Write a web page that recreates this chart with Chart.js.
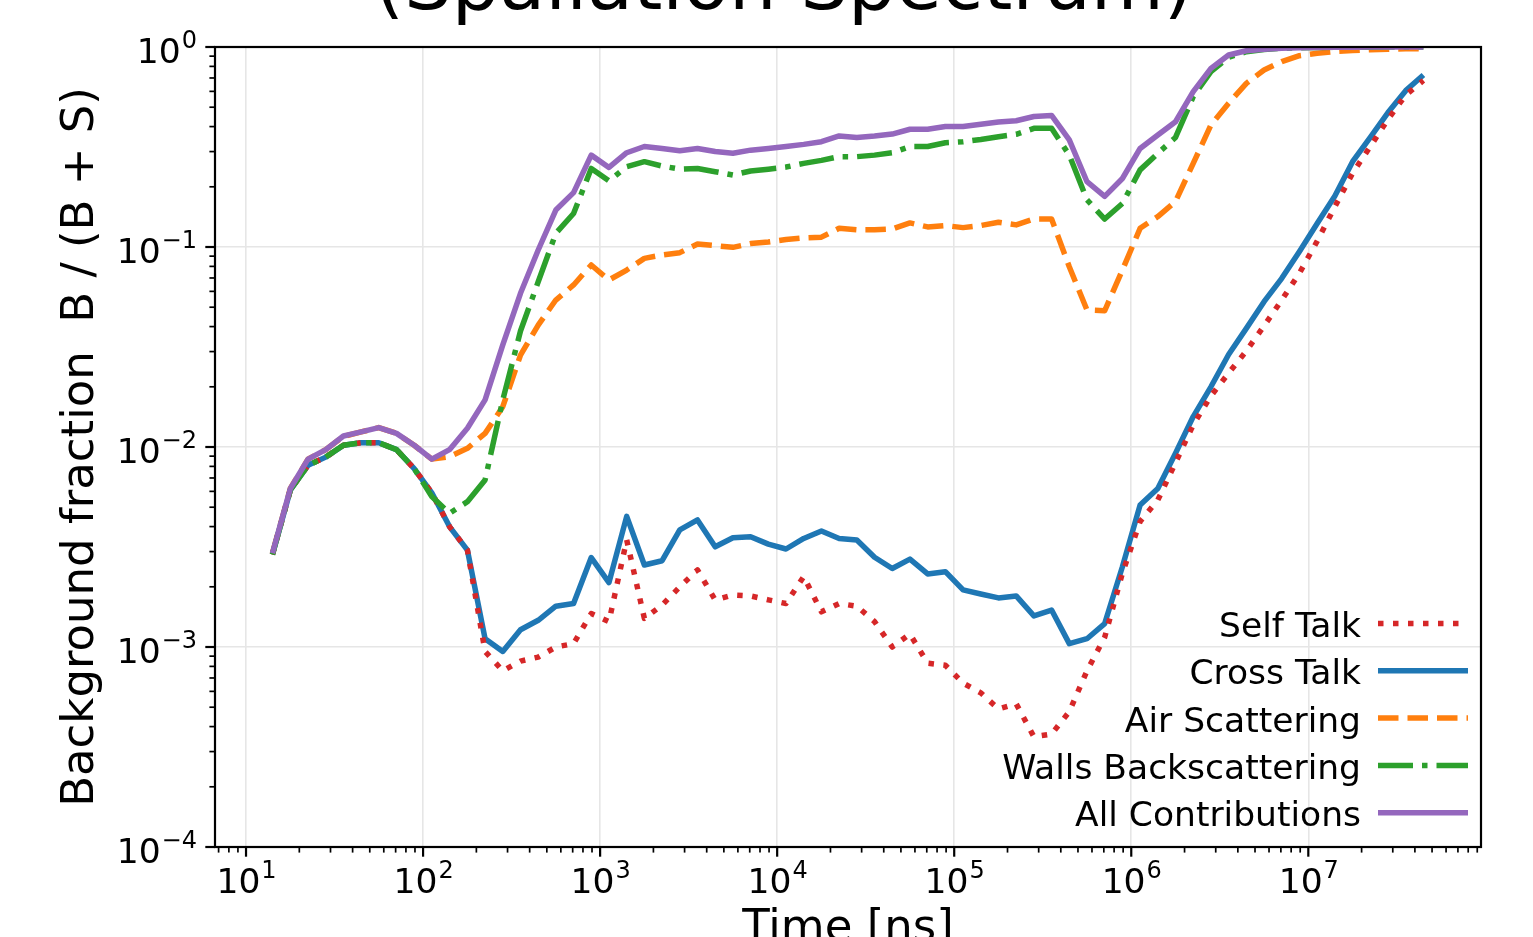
<!DOCTYPE html>
<html>
<head>
<meta charset="utf-8">
<script src="https://cdn.jsdelivr.net/npm/chart.js@4.4.1/dist/chart.umd.min.js"></script>
<style>
  html, body { margin: 0; padding: 0; overflow: hidden; background: #fff; }
  #wrap { position: absolute; left: 0; top: 0; width: 1533px; height: 1000px; }
</style>
</head>
<body>
<div id="wrap"><canvas id="fractionChart"></canvas></div>
<script>
const FAMILY = '"DejaVu Sans", sans-serif';

// time bin centres [ns]
const times = [
  14.1, 17.8, 22.4, 28.2, 35.5, 44.7, 56.2, 70.8, 89.1, 112,
  141, 178, 224, 282, 355, 447, 562, 708, 891, 1122,
  1413, 1778, 2239, 2818, 3548, 4467, 5623, 7079, 8913, 11220,
  14125, 17783, 22387, 28184, 35481, 44668, 56234, 70795, 89125, 112202,
  141254, 177828, 223872, 281838, 354813, 446684, 562341, 707946, 891251, 1122018,
  1412538, 1778279, 2238721, 2818383, 3548134, 4466836, 5623413, 7079458, 8912509, 11220185,
  14125375, 17782794, 22387211, 28183829, 35481339, 44668359
];

const selfTalk = [
  2.9e-3, 6.1e-3, 8.1e-3, 8.9e-3, 1.02e-2, 1.05e-2, 1.05e-2, 9.7e-3, 7.8e-3, 5.9e-3,
  4.0e-3, 3.05e-3, 9.5e-4, 7.6e-4, 8.5e-4, 8.9e-4, 1.0e-3, 1.04e-3, 1.47e-3, 1.34e-3,
  3.43e-3, 1.39e-3, 1.62e-3, 2.0e-3, 2.43e-3, 1.72e-3, 1.82e-3, 1.8e-3, 1.72e-3, 1.65e-3,
  2.25e-3, 1.5e-3, 1.65e-3, 1.6e-3, 1.34e-3, 1.0e-3, 1.16e-3, 8.3e-4, 8.1e-4, 6.6e-4,
  5.9e-4, 4.9e-4, 5.2e-4, 3.56e-4, 3.67e-4, 4.75e-4, 7.6e-4, 1.12e-3, 2.34e-3, 4.24e-3,
  5.43e-3, 8.35e-3, 1.29e-2, 1.8e-2, 2.34e-2, 3.02e-2, 4.03e-2, 5.43e-2, 7.4e-2, 0.107,
  0.159, 0.234, 0.318, 0.435, 0.575, 0.68
];

const crossTalk = [
  2.9e-3, 6.1e-3, 8.1e-3, 8.9e-3, 1.02e-2, 1.05e-2, 1.05e-2, 9.7e-3, 7.8e-3, 5.9e-3,
  4.0e-3, 3.05e-3, 1.1e-3, 9.5e-4, 1.22e-3, 1.36e-3, 1.6e-3, 1.65e-3, 2.8e-3, 2.1e-3,
  4.5e-3, 2.57e-3, 2.7e-3, 3.85e-3, 4.32e-3, 3.17e-3, 3.52e-3, 3.56e-3, 3.27e-3, 3.09e-3,
  3.49e-3, 3.8e-3, 3.49e-3, 3.43e-3, 2.81e-3, 2.47e-3, 2.75e-3, 2.32e-3, 2.38e-3, 1.93e-3,
  1.84e-3, 1.76e-3, 1.8e-3, 1.43e-3, 1.53e-3, 1.04e-3, 1.1e-3, 1.31e-3, 2.52e-3, 5.13e-3,
  6.2e-3, 9.3e-3, 1.42e-2, 2.0e-2, 2.9e-2, 3.92e-2, 5.33e-2, 6.97e-2, 9.5e-2, 0.131,
  0.18, 0.267, 0.353, 0.47, 0.605, 0.724
];

const airScattering = [
  2.94e-3, 6.2e-3, 8.7e-3, 9.7e-3, 1.13e-2, 1.19e-2, 1.25e-2, 1.17e-2, 1.02e-2, 8.7e-3,
  8.95e-3, 9.85e-3, 1.17e-2, 1.59e-2, 2.88e-2, 4.07e-2, 5.43e-2, 6.46e-2, 8.13e-2, 6.84e-2,
  7.67e-2, 8.77e-2, 9.12e-2, 9.37e-2, 0.1035, 0.1016, 0.0996, 0.104, 0.106, 0.109,
  0.111, 0.112, 0.124, 0.122, 0.122, 0.123, 0.132, 0.126, 0.128, 0.125,
  0.128, 0.133, 0.129, 0.138, 0.138, 0.0797, 0.0484, 0.048, 0.0767, 0.124,
  0.142, 0.169, 0.262, 0.407, 0.523, 0.658, 0.767, 0.845, 0.905, 0.93,
  0.95, 0.96, 0.97, 0.975, 0.98, 0.98
];

const wallsBackscattering = [
  2.9e-3, 6.1e-3, 8.1e-3, 8.9e-3, 1.02e-2, 1.05e-2, 1.05e-2, 9.7e-3, 7.8e-3, 5.65e-3,
  4.66e-3, 5.33e-3, 6.84e-3, 1.72e-2, 3.8e-2, 6.7e-2, 0.117, 0.147, 0.247, 0.214,
  0.252, 0.267, 0.254, 0.245, 0.247, 0.238, 0.229, 0.24, 0.245, 0.251,
  0.262, 0.271, 0.283, 0.283, 0.288, 0.296, 0.318, 0.318, 0.332, 0.336,
  0.345, 0.356, 0.366, 0.392, 0.392, 0.288, 0.172, 0.138, 0.165, 0.243,
  0.294, 0.353, 0.565, 0.753, 0.888, 0.947, 0.972, 0.985, 0.99, 0.994,
  0.996, 0.997, 0.998, 0.999, 0.999, 0.999
];

const allContributions = [
  2.94e-3, 6.2e-3, 8.7e-3, 9.7e-3, 1.135e-2, 1.19e-2, 1.25e-2, 1.17e-2, 1.02e-2, 8.7e-3,
  9.7e-3, 1.24e-2, 1.72e-2, 3.24e-2, 5.87e-2, 9.66e-2, 0.153, 0.187, 0.288, 0.25,
  0.296, 0.318, 0.311, 0.303, 0.311, 0.3, 0.294, 0.305, 0.311, 0.318,
  0.326, 0.336, 0.359, 0.353, 0.359, 0.367, 0.388, 0.388, 0.4, 0.4,
  0.411, 0.422, 0.428, 0.449, 0.455, 0.343, 0.212, 0.179, 0.22, 0.311,
  0.363, 0.423, 0.598, 0.782, 0.912, 0.958, 0.975, 0.985, 0.99, 0.995,
  0.997, 0.998, 0.999, 0.999, 1.0, 1.0
];

const seriesNames = ["Self Talk", "Cross Talk", "Air Scattering", "Walls Backscattering", "All Contributions"];
const xTickValues = [1e1, 1e2, 1e3, 1e4, 1e5, 1e6, 1e7];
const xTickExponents = ["1", "2", "3", "4", "5", "6", "7"];
const yTickValues = [1e-4, 1e-3, 1e-2, 1e-1, 1];
const yTickExponents = ["\u22124", "\u22123", "\u22122", "\u22121", "0"];

const TICK_SIZE = 34.5;
const SUP_SIZE = 24;

function points(values) {
  return times.map((t, i) => ({ x: t, y: values[i] }));
}

const styles = [
  { color: "#d62728", dash: [5.5, 9.5], order: 2 },
  { color: "#1f77b4", dash: [], order: 3 },
  { color: "#ff7f0e", dash: [20.5, 9], order: 4 },
  { color: "#2ca02c", dash: [35, 9, 5.5, 9], order: 1 },
  { color: "#9467bd", dash: [], order: 0 },
];
const allSeries = [selfTalk, crossTalk, airScattering, wallsBackscattering, allContributions];

const datasets = allSeries.map((vals, i) => ({
  label: seriesNames[i],
  data: points(vals),
  borderColor: styles[i].color,
  borderDash: styles[i].dash,
  borderWidth: 5.5,
  borderJoinStyle: "round",
  pointRadius: 0,
  tension: 0,
  fill: false,
  order: styles[i].order,
  clip: 0,
}));

// "10" with a raised exponent, like mathtext
function powerLabel(c, exp, x, baseline, align) {
  c.font = TICK_SIZE + "px " + FAMILY;
  const wb = c.measureText("10").width;
  c.font = SUP_SIZE + "px " + FAMILY;
  const we = c.measureText(exp).width;
  const left = align === "right" ? x - wb - we : x - (wb + we) / 2;
  c.textAlign = "left";
  c.textBaseline = "alphabetic";
  c.font = TICK_SIZE + "px " + FAMILY;
  c.fillText("10", left, baseline);
  c.font = SUP_SIZE + "px " + FAMILY;
  c.fillText(exp, left + wb + 1, baseline - 15);
}

// frame, ticks, tick labels, legend and the clipped title
const decorations = {
  id: "decorations",
  afterDatasetsDraw(chart) {
    const { ctx, chartArea: a } = chart;
    ctx.save();
    ctx.strokeStyle = "#000";
    ctx.lineWidth = 2.2;
    ctx.strokeRect(a.left, a.top, a.right - a.left, a.bottom - a.top);
    ctx.restore();
  },
  afterDraw(chart) {
    const { ctx, chartArea: a } = chart;
    const xs = chart.scales.x, ys = chart.scales.y;
    ctx.save();
    ctx.strokeStyle = "#000";
    for (let e = 0; e <= 7; e++) {
      for (let m = 1; m <= 9; m++) {
        const v = m * Math.pow(10, e);
        if (v < xs.min || v > xs.max) continue;
        const px = xs.getPixelForValue(v);
        ctx.lineWidth = m === 1 ? 2.2 : 1.7;
        ctx.beginPath();
        ctx.moveTo(px, a.bottom);
        ctx.lineTo(px, a.bottom + (m === 1 ? 9.7 : 5.6));
        ctx.stroke();
      }
    }
    for (let e = -4; e <= 0; e++) {
      for (let m = 1; m <= 9; m++) {
        const v = m * Math.pow(10, e);
        if (v < ys.min || v > ys.max * 1.0001) continue;
        const py = ys.getPixelForValue(v);
        ctx.lineWidth = m === 1 ? 2.2 : 1.7;
        ctx.beginPath();
        ctx.moveTo(a.left, py);
        ctx.lineTo(a.left - (m === 1 ? 9.7 : 5.6), py);
        ctx.stroke();
      }
    }

    ctx.fillStyle = "#000";
    xTickValues.forEach((v, i) => {
      powerLabel(ctx, xTickExponents[i], xs.getPixelForValue(v), a.bottom + 46, "center");
    });
    yTickValues.forEach((v, i) => {
      powerLabel(ctx, yTickExponents[i], a.left - 19, ys.getPixelForValue(v) + 16, "right");
    });

    // legend: text on the left, handle on the right, no frame
    ctx.font = "34.5px " + FAMILY;
    ctx.textAlign = "right";
    ctx.textBaseline = "alphabetic";
    chart.data.datasets.forEach((ds, i) => {
      const yc = 623.5 + i * 47.3;
      ctx.fillStyle = "#000";
      ctx.fillText(ds.label, 1361, yc + 13.4);
      ctx.strokeStyle = ds.borderColor;
      ctx.lineWidth = ds.borderWidth;
      ctx.setLineDash(ds.borderDash);
      ctx.lineCap = "butt";
      ctx.beginPath();
      ctx.moveTo(1378, yc);
      ctx.lineTo(1468, yc);
      ctx.stroke();
      ctx.setLineDash([]);
    });

    ctx.font = "75px " + FAMILY;
    ctx.textAlign = "center";
    ctx.fillStyle = "#000";
    ctx.fillText("(Spallation Spectrum)", 784, 9);
    ctx.restore();
  },
};

const ctx = document.getElementById("fractionChart").getContext("2d");
new Chart(ctx, {
  type: "line",
  data: { datasets: datasets },
  options: {
    responsive: true,
    maintainAspectRatio: false,
    animation: false,
    layout: { padding: { top: 47, right: 52, bottom: 0, left: 0 } },
    plugins: { legend: { display: false }, tooltip: { enabled: false } },
    scales: {
      x: {
        type: "logarithmic",
        min: 6.68,
        max: 9.45e7,
        afterBuildTicks: (axis) => { axis.ticks = xTickValues.map((v) => ({ value: v })); },
        afterFit: (axis) => { axis.height = 153; },
        grid: { color: "#e6e6e6", lineWidth: 1.6, drawTicks: false },
        border: { display: false },
        ticks: { display: false },
        title: {
          display: true,
          text: "Time [ns]",
          color: "#000",
          font: { family: FAMILY, size: 45 },
          padding: { top: 0, bottom: 44 },
        },
      },
      y: {
        type: "logarithmic",
        min: 1e-4,
        max: 1,
        afterBuildTicks: (axis) => { axis.ticks = yTickValues.map((v) => ({ value: v })); },
        afterFit: (axis) => { axis.width = 215; },
        grid: { color: "#e6e6e6", lineWidth: 1.6, drawTicks: false },
        border: { display: false },
        ticks: { display: false },
        title: {
          display: true,
          text: "Background fraction  B / (B + S)",
          color: "#000",
          font: { family: FAMILY, size: 45 },
          padding: { top: 54, bottom: 0 },
        },
      },
    },
  },
  plugins: [decorations],
});
</script>
</body>
</html>
